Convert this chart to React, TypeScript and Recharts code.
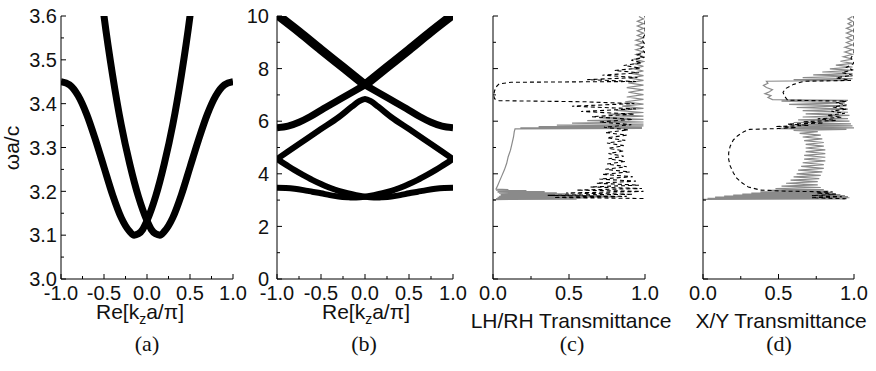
import { LineChart, Line, XAxis, YAxis } from 'recharts'

// ---------- data ----------
// (a) lowest two bands close to the gap edge, [Re(kz a/pi), omega a/c]
const bandLowLeft = [
  [-1.0, 3.45], [-0.9, 3.443], [-0.8, 3.418], [-0.7, 3.375], [-0.6, 3.318], [-0.5, 3.255],
  [-0.4, 3.192], [-0.3, 3.14], [-0.2, 3.108], [-0.15, 3.1], [-0.1, 3.103], [-0.05, 3.113],
  [0.0, 3.133], [0.1, 3.188], [0.2, 3.262], [0.3, 3.352], [0.4, 3.465], [0.5, 3.6], [0.55, 3.68],
]
const bandLowRight = [
  [-0.55, 3.68], [-0.5, 3.6], [-0.4, 3.465], [-0.3, 3.352], [-0.2, 3.262], [-0.1, 3.188],
  [0.0, 3.133], [0.05, 3.113], [0.1, 3.103], [0.15, 3.1], [0.2, 3.108], [0.3, 3.14],
  [0.4, 3.192], [0.5, 3.255], [0.6, 3.318], [0.7, 3.375], [0.8, 3.418], [0.9, 3.443], [1.0, 3.45],
]

// (b) full band diagram 0..10
const bandB1 = [
  [-1.0, 3.47], [-0.9, 3.46], [-0.8, 3.43], [-0.7, 3.38], [-0.6, 3.32], [-0.5, 3.26], [-0.4, 3.19],
  [-0.3, 3.14], [-0.2, 3.11], [-0.15, 3.1], [-0.1, 3.1], [0.0, 3.13], [0.1, 3.19], [0.2, 3.26],
  [0.3, 3.35], [0.4, 3.47], [0.5, 3.61], [0.6, 3.77], [0.7, 3.95], [0.8, 4.14], [0.9, 4.35], [1.0, 4.56],
]
const bandB2 = [
  [-1.0, 4.56], [-0.9, 4.35], [-0.8, 4.14], [-0.7, 3.95], [-0.6, 3.77], [-0.5, 3.61], [-0.4, 3.47],
  [-0.3, 3.35], [-0.2, 3.26], [-0.1, 3.19], [0.0, 3.13], [0.1, 3.1], [0.15, 3.1], [0.2, 3.11],
  [0.3, 3.14], [0.4, 3.19], [0.5, 3.26], [0.6, 3.32], [0.7, 3.38], [0.8, 3.43], [0.9, 3.46], [1.0, 3.47],
]
const bandHump = [
  [-1.0, 4.56], [-0.75, 5.13], [-0.5, 5.7], [-0.3, 6.15], [-0.15, 6.55], [-0.07, 6.75], [0.0, 6.84],
  [0.07, 6.75], [0.15, 6.55], [0.3, 6.15], [0.5, 5.7], [0.75, 5.13], [1.0, 4.56],
]
const bandDownUpper = [[-1.0, 10.05], [-0.75, 9.4], [-0.5, 8.72], [-0.25, 8.05], [0.0, 7.38]]
const bandDownLower = [
  [0.0, 7.38], [0.25, 6.9], [0.5, 6.42], [0.625, 6.17], [0.75, 5.96], [0.875, 5.81], [1.0, 5.75],
]
const bandUpUpper = [[0.0, 7.38], [0.25, 8.05], [0.5, 8.72], [0.75, 9.4], [1.0, 10.05]]
const bandUpLower = [
  [-1.0, 5.75], [-0.875, 5.81], [-0.75, 5.96], [-0.625, 6.17], [-0.5, 6.42], [-0.25, 6.9], [0.0, 7.38],
]

// (c) LH (gray) / RH (dashed) transmittance, [T, omega a/c]
const cGray = [
  [0.0, 3.02], [0.55, 3.04], [0.02, 3.06], [0.62, 3.08], [0.03, 3.1], [0.82, 3.12], [0.04, 3.14],
  [0.72, 3.16], [0.05, 3.18], [0.58, 3.2], [0.05, 3.22], [0.5, 3.24], [0.04, 3.26], [0.42, 3.28],
  [0.03, 3.3], [0.34, 3.32], [0.03, 3.34], [0.22, 3.36], [0.02, 3.38], [0.1, 3.4], [0.02, 3.42],
  [0.03, 3.55], [0.045, 3.75], [0.06, 3.95], [0.075, 4.15], [0.09, 4.4], [0.1, 4.65], [0.115, 4.9],
  [0.125, 5.15], [0.135, 5.4], [0.14, 5.6], [0.145, 5.71],
  [0.98, 5.73], [0.18, 5.75], [0.98, 5.77], [0.3, 5.79], [0.99, 5.82], [0.42, 5.85], [0.99, 5.89],
  [0.52, 5.93], [0.99, 5.97], [0.62, 6.02], [0.99, 6.07], [0.7, 6.13], [0.99, 6.19], [0.76, 6.26],
  [0.99, 6.33], [0.81, 6.41], [0.99, 6.49], [0.85, 6.57], [0.99, 6.65], [0.87, 6.74], [0.99, 6.83],
  [0.88, 6.92], [0.99, 7.01], [0.89, 7.1], [0.99, 7.19], [0.88, 7.28], [0.99, 7.37], [0.89, 7.46],
  [0.99, 7.55], [0.9, 7.64], [0.99, 7.73], [0.91, 7.82], [0.99, 7.91], [0.92, 8.0], [0.99, 8.09],
  [0.93, 8.18], [0.99, 8.27], [0.93, 8.36], [0.99, 8.45], [0.94, 8.54], [0.99, 8.63], [0.94, 8.72],
  [0.99, 8.81], [0.94, 8.9], [0.99, 8.99], [0.94, 9.08], [0.99, 9.17], [0.95, 9.26], [0.99, 9.35],
  [0.95, 9.44], [0.99, 9.53], [0.95, 9.62], [0.99, 9.71], [0.95, 9.8], [0.99, 9.89], [0.96, 9.98],
]
const cDash = [
  [0.99, 3.06], [0.4, 3.1], [0.88, 3.14], [0.36, 3.18], [0.92, 3.22], [0.48, 3.27], [0.99, 3.33],
  [0.55, 3.38], [0.98, 3.44], [0.64, 3.5], [0.96, 3.57], [0.68, 3.64], [0.94, 3.72], [0.7, 3.8],
  [0.92, 3.89], [0.72, 3.98], [0.9, 4.07], [0.74, 4.17], [0.88, 4.27], [0.75, 4.37], [0.87, 4.47],
  [0.76, 4.57], [0.86, 4.67], [0.76, 4.77], [0.86, 4.87], [0.76, 4.97], [0.86, 5.07], [0.75, 5.17],
  [0.87, 5.27], [0.75, 5.37], [0.88, 5.47], [0.74, 5.57], [0.89, 5.67], [0.73, 5.77], [0.91, 5.87],
  [0.7, 5.97], [0.92, 6.07], [0.65, 6.17], [0.93, 6.27], [0.58, 6.37], [0.94, 6.47], [0.52, 6.57],
  [0.93, 6.67], [0.6, 6.74], [0.04, 6.78], [0.01, 6.85], [0.005, 7.0], [0.01, 7.15], [0.02, 7.3],
  [0.04, 7.42], [0.12, 7.48], [0.94, 7.51], [0.62, 7.58], [0.95, 7.66], [0.72, 7.75], [0.96, 7.84],
  [0.8, 7.93], [0.97, 8.02], [0.86, 8.12], [0.98, 8.22], [0.91, 8.32], [0.99, 8.42], [0.95, 8.52],
  [1.0, 8.62], [0.97, 8.75], [1.0, 8.9], [0.98, 9.1], [1.0, 9.3], [1.0, 10.0],
]

// (d) X (gray) / Y (dashed) transmittance
const dGray = [
  [0.0, 3.03], [0.94, 3.05], [0.03, 3.07], [0.97, 3.09], [0.08, 3.11], [0.96, 3.13], [0.14, 3.15],
  [0.94, 3.17], [0.2, 3.19], [0.91, 3.21], [0.26, 3.23], [0.88, 3.25], [0.32, 3.27], [0.85, 3.29],
  [0.38, 3.31], [0.83, 3.34], [0.43, 3.37], [0.8, 3.4], [0.48, 3.44], [0.78, 3.48], [0.52, 3.53],
  [0.76, 3.58], [0.55, 3.64], [0.76, 3.7], [0.58, 3.76], [0.77, 3.82], [0.6, 3.88], [0.78, 3.94],
  [0.62, 4.0], [0.79, 4.07], [0.63, 4.14], [0.8, 4.21], [0.65, 4.28], [0.8, 4.35], [0.66, 4.42],
  [0.81, 4.49], [0.67, 4.56], [0.81, 4.63], [0.67, 4.7], [0.81, 4.77], [0.68, 4.84], [0.81, 4.91],
  [0.68, 4.98], [0.8, 5.05], [0.68, 5.12], [0.8, 5.19], [0.67, 5.26], [0.79, 5.33], [0.66, 5.4],
  [0.78, 5.47], [0.64, 5.54], [0.76, 5.6], [0.6, 5.65],
  [0.95, 5.69], [0.5, 5.72], [1.0, 5.75], [0.53, 5.78], [0.99, 5.82], [0.57, 5.86], [0.98, 5.9],
  [0.6, 5.95], [0.97, 6.0], [0.63, 6.05], [0.96, 6.1], [0.66, 6.16], [0.97, 6.22], [0.68, 6.28],
  [0.96, 6.34], [0.66, 6.4], [0.96, 6.46], [0.62, 6.52], [0.95, 6.58], [0.57, 6.64], [0.94, 6.7],
  [0.52, 6.76], [0.96, 6.79], [0.46, 6.82], [0.43, 6.9], [0.45, 6.97], [0.41, 7.05], [0.44, 7.12],
  [0.46, 7.2], [0.42, 7.28], [0.4, 7.36], [0.43, 7.44], [0.42, 7.52], [0.98, 7.55], [0.6, 7.58],
  [0.99, 7.62], [0.66, 7.66], [0.99, 7.71], [0.73, 7.76], [0.99, 7.81], [0.79, 7.87], [0.99, 7.93],
  [0.84, 7.99], [0.99, 8.06], [0.88, 8.13], [0.99, 8.2], [0.91, 8.28], [0.99, 8.36], [0.93, 8.45],
  [0.99, 8.54], [0.94, 8.63], [0.99, 8.72], [0.94, 8.81], [0.99, 8.9], [0.95, 8.99], [0.99, 9.08],
  [0.95, 9.17], [0.99, 9.26], [0.95, 9.35], [0.99, 9.44], [0.95, 9.53], [0.99, 9.62], [0.96, 9.71],
  [0.99, 9.8], [0.96, 9.89], [0.99, 9.98],
]
const dDash = [
  [0.95, 3.05], [0.72, 3.09], [0.92, 3.13], [0.72, 3.17], [0.88, 3.22], [0.75, 3.27], [0.86, 3.31],
  [0.55, 3.34], [0.38, 3.38], [0.3, 3.5], [0.26, 3.65], [0.22, 3.85], [0.2, 4.05], [0.18, 4.3],
  [0.17, 4.55], [0.17, 4.8], [0.18, 5.05], [0.2, 5.28], [0.23, 5.45], [0.27, 5.6], [0.31, 5.69],
  [0.5, 5.72], [0.62, 5.76], [0.48, 5.8], [0.7, 5.84], [0.56, 5.89], [0.8, 5.93], [0.66, 5.98],
  [0.88, 6.03], [0.76, 6.09], [0.92, 6.15], [0.82, 6.22], [0.94, 6.3], [0.85, 6.38], [0.95, 6.46],
  [0.86, 6.54], [0.95, 6.62], [0.88, 6.7], [0.95, 6.76], [0.56, 6.8], [0.54, 6.95], [0.53, 7.1],
  [0.55, 7.25], [0.6, 7.4], [0.67, 7.52], [0.98, 7.55], [0.88, 7.65], [0.99, 7.75], [0.92, 7.85],
  [0.99, 7.95], [0.95, 8.05], [1.0, 8.2], [0.98, 8.4], [1.0, 8.6], [1.0, 10.0],
]

// ticks
const kTicks = [-1, -0.75, -0.5, -0.25, 0, 0.25, 0.5, 0.75, 1]
const kMajors = [-1, -0.5, 0, 0.5, 1]
const wTicksA = [3.0, 3.05, 3.1, 3.15, 3.2, 3.25, 3.3, 3.35, 3.4, 3.45, 3.5, 3.55, 3.6]
const wMajorsA = [3.0, 3.1, 3.2, 3.3, 3.4, 3.5, 3.6]
const wTicksB = [0, 1, 2, 3, 4, 5, 6, 7, 8, 9, 10]
const wMajorsB = [0, 2, 4, 6, 8, 10]
const tTicks = [0, 0.25, 0.5, 0.75, 1]
const tMajors = [0, 0.5, 1]

const pts = (arr: number[][]) => arr.map(([x, y]) => ({ x, y }))

const FONT = 'Arial, "Liberation Sans", sans-serif'
const SERIF = '"Liberation Serif", "Times New Roman", serif'
const TOP = 16
const BOTTOM = 279
const YAXIS_W = 60
const RIGHT_PAD = 24

const isMajor = (majors: number[], v: number) => majors.some((m) => Math.abs(m - v) < 1e-6)

function makeTick(side: string, majors: number[], fmt: ((v: number) => string) | null, gap = 5) {
  return (props: any) => {
    const { x, y, payload } = props
    const v = payload.value
    const major = isMajor(majors, v)
    const len = major ? 5 : 3
    if (side === 'bottom') {
      return (
        <g>
          <line x1={x} x2={x} y1={y} y2={y - len} stroke="#000" />
          {fmt && major && (
            <text x={x} y={y + 21} textAnchor="middle" fontSize={20} fontFamily={FONT} fill="#111">
              {fmt(v)}
            </text>
          )}
        </g>
      )
    }
    if (side === 'top') return <line x1={x} x2={x} y1={y} y2={y + len} stroke="#000" />
    if (side === 'right') return <line x1={x} x2={x - len} y1={y} y2={y} stroke="#000" />
    return (
      <g>
        <line x1={x} x2={x + len} y1={y} y2={y} stroke="#000" />
        {fmt && major && (
          <text x={x - gap} y={y} dy="0.36em" textAnchor="end" fontSize={20} fontFamily={FONT} fill="#111">
            {fmt(v)}
          </text>
        )}
      </g>
    )
  }
}

interface PanelProps {
  left: number
  right: number
  xDomain: number[]
  xTicks: number[]
  xMajors: number[]
  yDomain: number[]
  yTicks: number[]
  yMajors: number[]
  yFmt: ((v: number) => string) | null
  yGap?: number
  children: any
}

function Panel({ left, right, xDomain, xTicks, xMajors, yDomain, yTicks, yMajors, yFmt, yGap, children }: PanelProps) {
  const w = right - left + YAXIS_W + RIGHT_PAD
  const f1 = (v: number) => v.toFixed(1)
  return (
    <div style={{ position: 'absolute', left: left - YAXIS_W, top: 0 }}>
      <LineChart width={w} height={BOTTOM + 40} margin={{ top: TOP, right: RIGHT_PAD, bottom: 0, left: 0 }}>
        <XAxis xAxisId="b" type="number" dataKey="x" domain={xDomain} ticks={xTicks} interval={0}
          allowDataOverflow height={40} tickSize={0} tickMargin={0} tickLine={false}
          axisLine={{ stroke: '#000' }} tick={makeTick('bottom', xMajors, f1)} />
        <XAxis xAxisId="t" orientation="top" type="number" dataKey="x" domain={xDomain} ticks={xTicks}
          interval={0} allowDataOverflow height={0} tickSize={0} tickMargin={0} tickLine={false}
          axisLine={{ stroke: '#000' }} tick={makeTick('top', xMajors, null)} />
        <YAxis yAxisId="l" type="number" domain={yDomain} ticks={yTicks} interval={0} allowDataOverflow
          width={YAXIS_W} tickSize={0} tickMargin={0} tickLine={false} axisLine={{ stroke: '#000' }}
          tick={makeTick('left', yMajors, yFmt, yGap)} />
        <YAxis yAxisId="r" orientation="right" type="number" domain={yDomain} ticks={yTicks} interval={0}
          allowDataOverflow width={0} tickSize={0} tickMargin={0} tickLine={false}
          axisLine={{ stroke: '#000' }} tick={makeTick('right', yMajors, null)} />
        {children}
      </LineChart>
    </div>
  )
}

const band = (data: number[][], width: number, key: string) => (
  <Line key={key} xAxisId="b" yAxisId="l" data={pts(data)} dataKey="y" type="monotone" stroke="#000"
    strokeWidth={width} dot={false} activeDot={false} isAnimationActive={false} />
)
const trace = (data: number[][], dashed: boolean, key: string) => (
  <Line key={key} xAxisId="b" yAxisId="l" data={pts(data)} dataKey="y" type="linear"
    stroke={dashed ? '#000' : '#8a8a8a'} strokeWidth={dashed ? 1.1 : 1.2}
    strokeDasharray={dashed ? '4 3' : undefined} dot={false} activeDot={false} isAnimationActive={false} />
)

const labelStyle: any = {
  position: 'absolute', fontFamily: FONT, fontSize: 21, color: '#111', whiteSpace: 'nowrap',
  transform: 'translate(-50%, -50%)', lineHeight: 1,
}
const tagStyle: any = { ...labelStyle, fontFamily: SERIF, fontSize: 22 }

function KLabel({ x }: { x: number }) {
  return (
    <div style={{ ...labelStyle, left: x, top: 313 }}>
      Re[k<sub style={{ fontSize: 14, verticalAlign: '-5px' }}>z</sub>a/π]
    </div>
  )
}

export default function App() {
  return (
    <div style={{ position: 'absolute', left: 0, top: 0, width: 876, height: 371, background: '#fff', overflow: 'hidden' }}>
      <Panel left={61} right={233} xDomain={[-1, 1]} xTicks={kTicks} xMajors={kMajors}
        yDomain={[3.0, 3.6]} yTicks={wTicksA} yMajors={wMajorsA} yFmt={(v) => v.toFixed(1)} yGap={4}>
        {band(bandLowLeft, 7, 'a1')}
        {band(bandLowRight, 7, 'a2')}
      </Panel>
      <Panel left={277} right={453} xDomain={[-1, 1]} xTicks={kTicks} xMajors={kMajors}
        yDomain={[0, 10]} yTicks={wTicksB} yMajors={wMajorsB} yFmt={(v) => String(v)} yGap={8}>
        {band(bandB1, 6, 'b1')}
        {band(bandB2, 6, 'b2')}
        {band(bandHump, 6, 'b3')}
        {band(bandDownLower, 7, 'b4')}
        {band(bandUpLower, 7, 'b5')}
        {band(bandDownUpper, 9, 'b6')}
        {band(bandUpUpper, 9, 'b7')}
      </Panel>
      <Panel left={493} right={645} xDomain={[0, 1]} xTicks={tTicks} xMajors={tMajors}
        yDomain={[0, 10]} yTicks={wTicksB} yMajors={wMajorsB} yFmt={null}>
        {trace(cGray, false, 'c1')}
        {trace(cDash, true, 'c2')}
      </Panel>
      <Panel left={703} right={854} xDomain={[0, 1]} xTicks={tTicks} xMajors={tMajors}
        yDomain={[0, 10]} yTicks={wTicksB} yMajors={wMajorsB} yFmt={null}>
        {trace(dGray, false, 'd1')}
        {trace(dDash, true, 'd2')}
      </Panel>

      <div style={{ ...labelStyle, left: 11, top: 148, transform: 'translate(-50%, -50%) rotate(-90deg)' }}>ωa/c</div>
      <KLabel x={140} />
      <KLabel x={366} />
      <div style={{ ...labelStyle, left: 571, top: 320 }}>LH/RH Transmittance</div>
      <div style={{ ...labelStyle, left: 781, top: 320 }}>X/Y Transmittance</div>

      <div style={{ ...tagStyle, left: 147, top: 344 }}>(a)</div>
      <div style={{ ...tagStyle, left: 364, top: 344 }}>(b)</div>
      <div style={{ ...tagStyle, left: 572, top: 344 }}>(c)</div>
      <div style={{ ...tagStyle, left: 779, top: 344 }}>(d)</div>
    </div>
  )
}
